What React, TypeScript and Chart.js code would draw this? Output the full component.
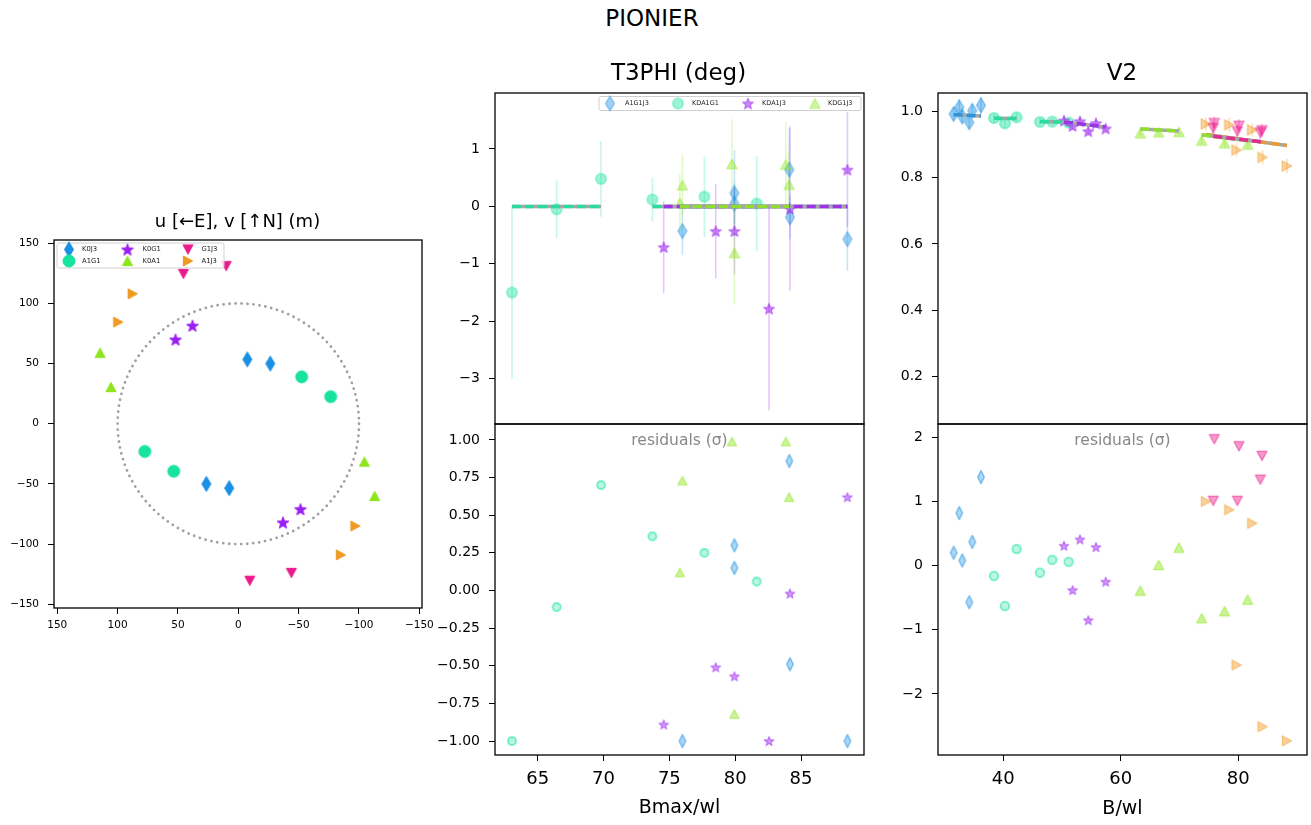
import React, { useEffect, useRef } from 'react';
import { Chart, registerables } from 'chart.js';

Chart.register(...registerables);

const FONT = "'DejaVu Sans', 'Liberation Sans', sans-serif";
Chart.defaults.font.family = FONT;

// ---------- colours ----------
const BLUE = '#1a8fe3';
const TEAL = '#17e39c';
const PURPLE = '#9a1ff2';
const LIME = '#8ce61a';
const PINK = '#eb1a8c';
const ORANGE = '#ef9a22';
const MODEL_GRAY = '#a6a6a6';

// ---------- u,v coverage (m) ----------
const UV_REF_RADIUS = 100;
const UV_K0J3_U = [-7.5, -26.5, 26.5, 7.5];
const UV_K0J3_V = [53.5, 50, -50, -53.5];
const UV_A1G1_U = [-52.5, -76.5, 77.5, 53.5];
const UV_A1G1_V = [39, 22.5, -23, -39.5];
const UV_K0G1_U = [52, 38, -37, -51.5];
const UV_K0G1_V = [70, 81.5, -82, -71];
const UV_K0A1_U = [114.5, 105.5, -104.5, -113];
const UV_K0A1_V = [59, 30.5, -31.5, -60];
const UV_G1J3_U = [10, 45.5, -9.5, -44];
const UV_G1J3_V = [131, 124.5, -130.5, -124];
const UV_A1J3_U = [87.5, 99.5, -97, -85];
const UV_A1J3_V = [108, 84.5, -85, -109];

// ---------- T3PHI ----------
const T3_A1G1J3_X = [75.99, 79.94, 79.94, 84.11, 84.16, 88.52];
const T3_A1G1J3_Y = [-0.43, 0.23, 0.05, 0.64, -0.19, -0.57];
const T3_A1G1J3_E = [0.42, 0.75, 0.35, 0.72, 0.38, 0.55];
const T3_A1G1J3_R = [-1.0, 0.3, 0.15, 0.86, -0.49, -1.0];

const T3_KDA1G1_X = [63.05, 66.44, 69.81, 73.71, 77.66, 81.63];
const T3_KDA1G1_Y = [-1.5, -0.05, 0.48, 0.12, 0.17, 0.05];
const T3_KDA1G1_E = [1.5, 0.5, 0.66, 0.38, 0.7, 0.83];
const T3_KDA1G1_R = [-1.0, -0.11, 0.7, 0.36, 0.25, 0.06];

const T3_KDA1J3_X = [74.57, 78.52, 79.94, 82.57, 84.16, 88.52];
const T3_KDA1J3_Y = [-0.71, -0.43, -0.43, -1.78, -0.04, 0.64];
const T3_KDA1J3_E = [0.8, 0.82, 0.75, 1.77, 1.43, 1.0];
const T3_KDA1J3_R = [-0.89, -0.51, -0.57, -1.0, -0.02, 0.62];

const T3_KDG1J3_X = [75.8, 75.99, 79.75, 79.94, 83.84, 84.09];
const T3_KDG1J3_Y = [0.06, 0.37, 0.74, -0.81, 0.73, 0.38];
const T3_KDG1J3_E = [0.5, 0.52, 0.78, 0.9, 0.74, 0.6];
const T3_KDG1J3_R = [0.12, 0.73, 0.99, -0.82, 0.99, 0.62];

// model segments (T3PHI)
const T3M_KDA1G1A_X = [63.05, 69.81];
const T3M_KDA1G1A_Y = [0, 0];
const T3M_KDA1G1B_X = [73.71, 81.63];
const T3M_KDA1G1B_Y = [0, 0];
const T3M_A1G1J3_X = [75.99, 88.52];
const T3M_A1G1J3_Y = [0, 0];
const T3M_KDA1J3_X = [74.57, 88.52];
const T3M_KDA1J3_Y = [0, 0];
const T3M_KDG1J3_X = [75.8, 84.09];
const T3M_KDG1J3_Y = [0, 0];

// ---------- V2 ----------
const V2_K0J3_X = [31.55, 32.51, 33.02, 34.21, 34.72, 36.2];
const V2_K0J3_Y = [0.992, 1.012, 0.984, 0.967, 1.002, 1.018];
const V2_K0J3_E = [0.02, 0.025, 0.02, 0.02, 0.02, 0.025];
const V2_K0J3_R = [0.2, 0.82, 0.08, -0.57, 0.37, 1.38];

const V2_A1G1_X = [38.41, 40.28, 42.27, 46.24, 48.34, 51.12];
const V2_A1G1_Y = [0.98, 0.964, 0.982, 0.968, 0.969, 0.966];
const V2_A1G1_E = [0.012, 0.012, 0.015, 0.01, 0.01, 0.01];
const V2_A1G1_R = [-0.16, -0.63, 0.26, -0.11, 0.09, 0.06];

const V2_K0G1_X = [50.33, 51.8, 53.05, 54.47, 55.77, 57.42];
const V2_K0G1_Y = [0.972, 0.956, 0.97, 0.94, 0.964, 0.948];
const V2_K0G1_E = [0.01, 0.01, 0.01, 0.012, 0.01, 0.01];
const V2_K0G1_R = [0.31, -0.38, 0.41, -0.85, 0.29, -0.25];

const V2_K0A1_X = [63.32, 66.44, 69.9, 73.76, 77.67, 81.59];
const V2_K0A1_Y = [0.934, 0.937, 0.938, 0.912, 0.904, 0.9];
const V2_K0A1_E = [0.01, 0.01, 0.012, 0.012, 0.012, 0.012];
const V2_K0A1_R = [-0.39, 0.01, 0.28, -0.82, -0.71, -0.53];

const V2_G1J3_X = [75.74, 75.91, 79.83, 80.11, 83.75, 84.03];
const V2_G1J3_Y = [0.949, 0.964, 0.939, 0.956, 0.936, 0.942];
const V2_G1J3_E = [0.02, 0.02, 0.02, 0.02, 0.02, 0.02];
const V2_G1J3_R = [1.01, 1.97, 1.01, 1.86, 1.34, 1.71];

const V2_A1J3_X = [74.5, 78.47, 79.72, 82.38, 84.14, 88.28];
const V2_A1J3_Y = [0.962, 0.959, 0.883, 0.944, 0.861, 0.835];
const V2_A1J3_E = [0.02, 0.022, 0.02, 0.02, 0.022, 0.022];
const V2_A1J3_R = [1.0, 0.87, -1.55, 0.66, -2.51, -2.73];

// model segments (V2)
const V2M_K0J3_X = [31.55, 36.2];
const V2M_K0J3_Y = [0.99, 0.986];
const V2M_A1G1A_X = [38.41, 42.27];
const V2M_A1G1A_Y = [0.979, 0.978];
const V2M_A1G1B_X = [46.24, 51.12];
const V2M_A1G1B_Y = [0.969, 0.967];
const V2M_K0G1_X = [50.33, 57.42];
const V2M_K0G1_Y = [0.968, 0.953];
const V2M_K0A1A_X = [63.32, 69.9];
const V2M_K0A1A_Y = [0.947, 0.941];
const V2M_K0A1B_X = [73.76, 81.59];
const V2M_K0A1B_Y = [0.929, 0.911];
const V2M_G1J3_X = [75.74, 84.03];
const V2M_G1J3_Y = [0.925, 0.908];
const V2M_A1J3_X = [74.5, 88.28];
const V2M_A1J3_Y = [0.93, 0.897];

// ---------- ticks ----------
const UV_TICKS = [-150, -100, -50, 0, 50, 100, 150];
const T3_X_TICKS = [65, 70, 75, 80, 85];
const T3_Y_TICKS = [-3, -2, -1, 0, 1];
const T3_RES_TICKS = [-1, -0.75, -0.5, -0.25, 0, 0.25, 0.5, 0.75, 1];
const V2_X_TICKS = [40, 60, 80];
const V2_Y_TICKS = [0.2, 0.4, 0.6, 0.8, 1.0];
const V2_RES_TICKS = [-2, -1, 0, 1, 2];

// ---------- helpers ----------
const minus = (s: string) => s.replace('-', '\u2212');

function hexA(hex: string, a: number) {
  const n = parseInt(hex.slice(1), 16);
  return `rgba(${(n >> 16) & 255},${(n >> 8) & 255},${n & 255},${a})`;
}

type Shape = 'o' | 'd' | '*' | '^' | 'v' | '>';
function marker(shape: Shape, color: string, r: number, fillA: number, edgeA: number, edgeW = 1.2, dw = 0.6): HTMLCanvasElement {
  const s = 2 * Math.ceil(r + edgeW + 2);
  const c = document.createElement('canvas');
  c.width = s;
  c.height = s;
  const ctx = c.getContext('2d')!;
  ctx.translate(s / 2, s / 2);
  ctx.beginPath();
  const k = 0.93;
  if (shape === 'o') ctx.arc(0, 0, r, 0, Math.PI * 2);
  else if (shape === 'd') {
    ctx.moveTo(0, -r); ctx.lineTo(dw * r, 0); ctx.lineTo(0, r); ctx.lineTo(-dw * r, 0); ctx.closePath();
  } else if (shape === '*') {
    for (let i = 0; i < 10; i++) {
      const a = -Math.PI / 2 + (i * Math.PI) / 5;
      const rr = i % 2 ? r * 0.42 : r;
      const px = rr * Math.cos(a), py = rr * Math.sin(a) + r * 0.1;
      if (i === 0) ctx.moveTo(px, py); else ctx.lineTo(px, py);
    }
    ctx.closePath();
  } else if (shape === '^') {
    ctx.moveTo(0, -k * r); ctx.lineTo(r, k * r); ctx.lineTo(-r, k * r); ctx.closePath();
  } else if (shape === 'v') {
    ctx.moveTo(0, k * r); ctx.lineTo(r, -k * r); ctx.lineTo(-r, -k * r); ctx.closePath();
  } else {
    ctx.moveTo(k * r, 0); ctx.lineTo(-k * r, -r); ctx.lineTo(-k * r, r); ctx.closePath();
  }
  ctx.lineJoin = 'round';
  if (fillA > 0) { ctx.globalAlpha = fillA; ctx.fillStyle = color; ctx.fill(); }
  if (edgeA > 0) { ctx.globalAlpha = edgeA; ctx.lineWidth = edgeW; ctx.strokeStyle = color; ctx.stroke(); }
  return c;
}

type Geo = { L: number; T: number; R: number; B: number; yw: number; xh: number; pt: number; pr: number; pb: number };
const boxOf = (g: Geo) => ({
  left: g.L - g.yw,
  top: g.T - g.pt,
  width: g.R - g.L + g.yw + g.pr,
  height: g.B - g.T + g.pt + g.xh + g.pb,
});

function axis(o: {
  min: number; max: number; ticks: number[]; fmt: (v: number) => string; size: number;
  fit: number; horizontal: boolean; show: boolean; reverse?: boolean; pad: number;
}) {
  return {
    type: 'linear',
    min: o.min,
    max: o.max,
    reverse: !!o.reverse,
    display: o.show,
    grid: { display: true, drawOnChartArea: false, drawTicks: true, tickLength: 6, color: '#000', lineWidth: 1 },
    border: { display: false },
    afterBuildTicks: (s: any) => { s.ticks = o.ticks.map((v) => ({ value: v })); },
    afterFit: (s: any) => { if (o.horizontal) s.height = o.fit; else s.width = o.fit; },
    ticks: {
      font: { family: FONT, size: o.size },
      color: '#000',
      padding: o.pad,
      maxRotation: 0,
      minRotation: 0,
      autoSkip: false,
      callback: (v: any) => o.fmt(Number(v)),
    },
  };
}

const xy = (xs: number[], ys: number[]) => xs.map((x, i) => ({ x, y: ys[i] }));

function pts(xs: number[], ys: number[], img: HTMLCanvasElement, order: number, extra: any = {}) {
  return {
    type: 'scatter', data: xy(xs, ys), pointStyle: img, pointRadius: 5, pointHoverRadius: 5,
    showLine: false, order, ...extra,
  };
}

function modelLine(xs: number[], ys: number[], color: string, order: number) {
  return [
    { type: 'scatter', data: xy(xs, ys), showLine: true, borderColor: MODEL_GRAY, borderWidth: 3.5, pointRadius: 0, order: order + 0.5, borderCapStyle: 'butt' },
    { type: 'scatter', data: xy(xs, ys), showLine: true, borderColor: hexA(color, 0.85), borderWidth: 3.5, borderDash: [9, 4], pointRadius: 0, order, borderCapStyle: 'butt' },
  ];
}

const framePlugin = {
  id: 'frame',
  afterDraw(chart: any) {
    const { ctx, chartArea: a } = chart;
    ctx.save();
    ctx.strokeStyle = '#000';
    ctx.lineWidth = 1.3;
    ctx.strokeRect(a.left, a.top, a.right - a.left, a.bottom - a.top);
    ctx.restore();
  },
};

const errPlugin = {
  id: 'errbars',
  beforeDatasetsDraw(chart: any) {
    const { ctx, chartArea: a, scales } = chart;
    const x = scales.x, y = scales.y;
    ctx.save();
    ctx.beginPath();
    ctx.rect(a.left, a.top, a.right - a.left, a.bottom - a.top);
    ctx.clip();
    chart.data.datasets.forEach((ds: any) => {
      if (!ds.errY) return;
      ctx.strokeStyle = ds.errColor;
      ctx.lineWidth = 1.6;
      ds.data.forEach((p: any, i: number) => {
        const px = x.getPixelForValue(p.x);
        ctx.beginPath();
        ctx.moveTo(px, y.getPixelForValue(p.y - ds.errY[i]));
        ctx.lineTo(px, y.getPixelForValue(p.y + ds.errY[i]));
        ctx.stroke();
      });
    });
    ctx.restore();
  },
};

const uvCirclePlugin = {
  id: 'uvCircle',
  beforeDatasetsDraw(chart: any) {
    const { ctx, scales } = chart;
    const x = scales.x, y = scales.y;
    const cx = x.getPixelForValue(0), cy = y.getPixelForValue(0);
    const rx = Math.abs(x.getPixelForValue(UV_REF_RADIUS) - cx);
    const ry = Math.abs(y.getPixelForValue(UV_REF_RADIUS) - cy);
    ctx.save();
    ctx.strokeStyle = '#a0a0a0';
    ctx.lineWidth = 2.8;
    ctx.lineCap = 'round';
    ctx.setLineDash([0.01, 6]);
    ctx.beginPath();
    ctx.ellipse(cx, cy, rx, ry, 0, 0, Math.PI * 2);
    ctx.stroke();
    ctx.restore();
  },
};

type LegItem = { img: HTMLCanvasElement; label: string; mx: number; my: number; tx: number };
function legendPlugin(id: string, box: { x: number; y: number; w: number; h: number }, items: LegItem[], fs: number) {
  return {
    id,
    afterDatasetsDraw(chart: any) {
      const { ctx, chartArea: a } = chart;
      const bx = a.left + box.x, by = a.top + box.y;
      ctx.save();
      ctx.fillStyle = 'rgba(255,255,255,0.8)';
      ctx.strokeStyle = '#d0d0d0';
      ctx.lineWidth = 1;
      ctx.beginPath();
      if (ctx.roundRect) ctx.roundRect(bx, by, box.w, box.h, 2); else ctx.rect(bx, by, box.w, box.h);
      ctx.fill();
      ctx.stroke();
      ctx.font = `${fs}px ${FONT}`;
      ctx.fillStyle = '#222';
      ctx.textBaseline = 'middle';
      items.forEach((it) => {
        ctx.drawImage(it.img, bx + it.mx - it.img.width / 2, by + it.my - it.img.height / 2);
        ctx.fillText(it.label, bx + it.tx, by + it.my);
      });
      ctx.restore();
    },
  };
}

function baseOptions(g: Geo, x: any, y: any) {
  return {
    responsive: false,
    animation: false,
    events: [],
    layout: { padding: { top: g.pt, right: g.pr, left: 0, bottom: g.pb } },
    plugins: { legend: { display: false }, tooltip: { enabled: false }, title: { display: false } },
    scales: { x, y },
  };
}

// ---------- geometry ----------
const UV_GEO: Geo = { L: 54, T: 240, R: 422, B: 608, yw: 50, xh: 30, pt: 20, pr: 20, pb: 0 };
const T3_GEO: Geo = { L: 495, T: 93, R: 864, B: 424, yw: 62, xh: 0, pt: 20, pr: 10, pb: 20 };
const T3R_GEO: Geo = { L: 495, T: 424, R: 864, B: 755, yw: 62, xh: 40, pt: 20, pr: 10, pb: 0 };
const V2_GEO: Geo = { L: 938, T: 93, R: 1307, B: 424, yw: 62, xh: 0, pt: 20, pr: 10, pb: 20 };
const V2R_GEO: Geo = { L: 938, T: 424, R: 1307, B: 755, yw: 62, xh: 40, pt: 20, pr: 10, pb: 0 };

// ---------- chart builders ----------
function makeUV() {
  const g = UV_GEO;
  const mK0J3 = marker('d', BLUE, 7.5, 1, 1, 1);
  const mA1G1 = marker('o', TEAL, 6, 1, 1, 1);
  const mK0G1 = marker('*', PURPLE, 6.2, 1, 1, 1);
  const mK0A1 = marker('^', LIME, 5, 1, 1, 1);
  const mG1J3 = marker('v', PINK, 5, 1, 1, 1);
  const mA1J3 = marker('>', ORANGE, 5, 1, 1, 1);
  const fmt = (v: number) => minus(String(v));
  return {
    type: 'scatter',
    data: {
      datasets: [
        pts(UV_K0J3_U, UV_K0J3_V, mK0J3, 6),
        pts(UV_A1G1_U, UV_A1G1_V, mA1G1, 5),
        pts(UV_K0G1_U, UV_K0G1_V, mK0G1, 4),
        pts(UV_K0A1_U, UV_K0A1_V, mK0A1, 3),
        pts(UV_G1J3_U, UV_G1J3_V, mG1J3, 2),
        pts(UV_A1J3_U, UV_A1J3_V, mA1J3, 1),
      ],
    },
    options: baseOptions(
      g,
      axis({ min: -152.2, max: 152.7, reverse: true, ticks: UV_TICKS, fmt, size: 10.5, fit: g.xh, horizontal: true, show: true, pad: 5 }),
      axis({ min: -153.1, max: 152.7, ticks: UV_TICKS, fmt, size: 10.5, fit: g.yw, horizontal: false, show: true, pad: 9 }),
    ),
    plugins: [
      uvCirclePlugin,
      legendPlugin('uvLegend', { x: 3, y: 3, w: 167, h: 25 }, [
        { img: mK0J3, label: 'K0J3', mx: 12, my: 6.5, tx: 25 },
        { img: mA1G1, label: 'A1G1', mx: 12, my: 18, tx: 25 },
        { img: mK0G1, label: 'K0G1', mx: 70.5, my: 6.5, tx: 85.5 },
        { img: mK0A1, label: 'K0A1', mx: 70.5, my: 18, tx: 85.5 },
        { img: mG1J3, label: 'G1J3', mx: 131, my: 6.5, tx: 144.5 },
        { img: mA1J3, label: 'A1J3', mx: 131, my: 18, tx: 144.5 },
      ], 6.8),
      framePlugin,
    ],
  };
}

function makeT3() {
  const g = T3_GEO;
  const A = 0.42;
  const mB = marker('d', BLUE, 7.5, A, A, 1.4);
  const mT = marker('o', TEAL, 5.3, A, A, 1.4);
  const mP = marker('*', PURPLE, 5.8, A + 0.1, A + 0.1, 1.2);
  const mL = marker('^', LIME, 5.2, A, A, 1.2);
  const ec = (c: string) => hexA(c, 0.25);
  const lines = [
    [T3M_KDA1G1A_X, T3M_KDA1G1A_Y, TEAL],
    [T3M_KDA1G1B_X, T3M_KDA1G1B_Y, TEAL],
    [T3M_A1G1J3_X, T3M_A1G1J3_Y, BLUE],
    [T3M_KDA1J3_X, T3M_KDA1J3_Y, PURPLE],
    [T3M_KDG1J3_X, T3M_KDG1J3_Y, LIME],
  ] as [number[], number[], string][];
  const lineSets = lines.flatMap(([xs, ys, c], i) => modelLine(xs, ys, c, 100 - 2 * i));
  return {
    type: 'scatter',
    data: {
      datasets: [
        pts(T3_KDA1G1_X, T3_KDA1G1_Y, mT, 303, { errY: T3_KDA1G1_E, errColor: ec(TEAL) }),
        pts(T3_A1G1J3_X, T3_A1G1J3_Y, mB, 302, { errY: T3_A1G1J3_E, errColor: ec(BLUE) }),
        pts(T3_KDA1J3_X, T3_KDA1J3_Y, mP, 301, { errY: T3_KDA1J3_E, errColor: ec(PURPLE) }),
        pts(T3_KDG1J3_X, T3_KDG1J3_Y, mL, 300, { errY: T3_KDG1J3_E, errColor: ec(LIME) }),
        ...lineSets,
      ],
    },
    options: baseOptions(
      g,
      axis({ min: 61.76, max: 89.78, ticks: T3_X_TICKS, fmt: (v) => String(v), size: 18, fit: 0, horizontal: true, show: false, pad: 8 }),
      axis({ min: -3.789, max: 1.975, ticks: T3_Y_TICKS, fmt: (v) => minus(String(v)), size: 14, fit: g.yw, horizontal: false, show: true, pad: 9 }),
    ),
    plugins: [
      errPlugin,
      legendPlugin('t3Legend', { x: 104, y: 3.5, w: 262, h: 14 }, [
        { img: mB, label: 'A1G1J3', mx: 11, my: 7, tx: 26 },
        { img: mT, label: 'KDA1G1', mx: 79, my: 7, tx: 93 },
        { img: mP, label: 'KDA1J3', mx: 149, my: 7, tx: 163 },
        { img: mL, label: 'KDG1J3', mx: 216, my: 7, tx: 229 },
      ], 6.5),
      framePlugin,
    ],
  };
}

function makeT3R() {
  const g = T3R_GEO;
  const mB = marker('d', BLUE, 6.5, 0.35, 0.55, 1.5, 0.5);
  const mT = marker('o', TEAL, 4, 0.3, 0.55, 1.8);
  const mP = marker('*', PURPLE, 5, 0.45, 0.5, 1.2);
  const mL = marker('^', LIME, 4.6, 0.45, 0.5, 1.2);
  return {
    type: 'scatter',
    data: {
      datasets: [
        pts(T3_KDA1G1_X, T3_KDA1G1_R, mT, 4),
        pts(T3_A1G1J3_X, T3_A1G1J3_R, mB, 3),
        pts(T3_KDA1J3_X, T3_KDA1J3_R, mP, 2),
        pts(T3_KDG1J3_X, T3_KDG1J3_R, mL, 1),
      ],
    },
    options: baseOptions(
      g,
      axis({ min: 61.76, max: 89.78, ticks: T3_X_TICKS, fmt: (v) => String(v), size: 18, fit: g.xh, horizontal: true, show: true, pad: 8 }),
      axis({ min: -1.093, max: 1.106, ticks: T3_RES_TICKS, fmt: (v) => minus(v.toFixed(2)), size: 14, fit: g.yw, horizontal: false, show: true, pad: 9 }),
    ),
    plugins: [framePlugin],
  };
}

function makeV2() {
  const g = V2_GEO;
  const A = 0.45;
  const mB = marker('d', BLUE, 7.5, A, A, 1.4);
  const mT = marker('o', TEAL, 5.3, A, A, 1.4);
  const mP = marker('*', PURPLE, 5.8, A + 0.1, A + 0.1, 1.2);
  const mL = marker('^', LIME, 5.2, A, A, 1.2);
  const mK = marker('v', PINK, 5.2, A, A, 1.2);
  const mO = marker('>', ORANGE, 5.2, A, A, 1.2);
  const ec = (c: string) => hexA(c, 0.3);
  const lines = [
    [V2M_K0J3_X, V2M_K0J3_Y, BLUE],
    [V2M_A1G1A_X, V2M_A1G1A_Y, TEAL],
    [V2M_A1G1B_X, V2M_A1G1B_Y, TEAL],
    [V2M_K0G1_X, V2M_K0G1_Y, PURPLE],
    [V2M_K0A1A_X, V2M_K0A1A_Y, LIME],
    [V2M_A1J3_X, V2M_A1J3_Y, ORANGE],
    [V2M_K0A1B_X, V2M_K0A1B_Y, LIME],
    [V2M_G1J3_X, V2M_G1J3_Y, PINK],
  ] as [number[], number[], string][];
  const lineSets = lines.flatMap(([xs, ys, c], i) => modelLine(xs, ys, c, 100 - 2 * i));
  return {
    type: 'scatter',
    data: {
      datasets: [
        pts(V2_K0J3_X, V2_K0J3_Y, mB, 305, { errY: V2_K0J3_E, errColor: ec(BLUE) }),
        pts(V2_A1G1_X, V2_A1G1_Y, mT, 304, { errY: V2_A1G1_E, errColor: ec(TEAL) }),
        pts(V2_K0G1_X, V2_K0G1_Y, mP, 303, { errY: V2_K0G1_E, errColor: ec(PURPLE) }),
        pts(V2_K0A1_X, V2_K0A1_Y, mL, 302, { errY: V2_K0A1_E, errColor: ec(LIME) }),
        pts(V2_A1J3_X, V2_A1J3_Y, mO, 301, { errY: V2_A1J3_E, errColor: ec(ORANGE) }),
        pts(V2_G1J3_X, V2_G1J3_Y, mK, 300, { errY: V2_G1J3_E, errColor: ec(PINK) }),
        ...lineSets,
      ],
    },
    options: baseOptions(
      g,
      axis({ min: 28.89, max: 91.69, ticks: V2_X_TICKS, fmt: (v) => String(v), size: 18, fit: 0, horizontal: true, show: false, pad: 8 }),
      axis({ min: 0.0573, max: 1.0552, ticks: V2_Y_TICKS, fmt: (v) => v.toFixed(1), size: 14, fit: g.yw, horizontal: false, show: true, pad: 9 }),
    ),
    plugins: [errPlugin, framePlugin],
  };
}

function makeV2R() {
  const g = V2R_GEO;
  const mB = marker('d', BLUE, 6.5, 0.35, 0.55, 1.5, 0.5);
  const mT = marker('o', TEAL, 4.3, 0.3, 0.55, 1.8);
  const mP = marker('*', PURPLE, 5, 0.45, 0.5, 1.2);
  const mL = marker('^', LIME, 5, 0.45, 0.5, 1.2);
  const mK = marker('v', PINK, 5, 0.45, 0.5, 1.2);
  const mO = marker('>', ORANGE, 5, 0.45, 0.5, 1.2);
  return {
    type: 'scatter',
    data: {
      datasets: [
        pts(V2_K0J3_X, V2_K0J3_R, mB, 6),
        pts(V2_A1G1_X, V2_A1G1_R, mT, 5),
        pts(V2_K0G1_X, V2_K0G1_R, mP, 4),
        pts(V2_K0A1_X, V2_K0A1_R, mL, 3),
        pts(V2_A1J3_X, V2_A1J3_R, mO, 2),
        pts(V2_G1J3_X, V2_G1J3_R, mK, 1),
      ],
    },
    options: baseOptions(
      g,
      axis({ min: 28.89, max: 91.69, ticks: V2_X_TICKS, fmt: (v) => String(v), size: 18, fit: g.xh, horizontal: true, show: true, pad: 8 }),
      axis({ min: -2.951, max: 2.207, ticks: V2_RES_TICKS, fmt: (v) => minus(String(v)), size: 14, fit: g.yw, horizontal: false, show: true, pad: 9 }),
    ),
    plugins: [framePlugin],
  };
}

// ---------- components ----------
function Panel({ geo, make }: { geo: Geo; make: () => any }) {
  const ref = useRef<HTMLCanvasElement>(null);
  useEffect(() => {
    const chart = new Chart(ref.current as HTMLCanvasElement, make());
    return () => chart.destroy();
  }, []);
  const b = boxOf(geo);
  return (
    <canvas
      ref={ref}
      width={b.width}
      height={b.height}
      style={{ position: 'absolute', left: b.left, top: b.top, width: b.width, height: b.height }}
    />
  );
}

function Txt({ x, y, size, color = '#000', children }: { x: number; y: number; size: number; color?: string; children: any }) {
  return (
    <div
      style={{
        position: 'absolute', left: x, top: y, transform: 'translate(-50%, -50%)',
        fontFamily: FONT, fontSize: size, lineHeight: 1, color, whiteSpace: 'nowrap',
      }}
    >
      {children}
    </div>
  );
}

export default function App() {
  return (
    <div style={{ position: 'absolute', left: 0, top: 0, width: 1311, height: 825, overflow: 'hidden', background: '#fff' }}>
      <Panel geo={UV_GEO} make={makeUV} />
      <Panel geo={T3_GEO} make={makeT3} />
      <Panel geo={T3R_GEO} make={makeT3R} />
      <Panel geo={V2_GEO} make={makeV2} />
      <Panel geo={V2R_GEO} make={makeV2R} />
      <Txt x={652} y={18.3} size={23}>PIONIER</Txt>
      <Txt x={678.5} y={71.7} size={23}>T3PHI (deg)</Txt>
      <Txt x={1122} y={71.5} size={23}>V2</Txt>
      <Txt x={237.5} y={220.5} size={18}>u [←E], v [↑N] (m)</Txt>
      <Txt x={679.5} y={806} size={19}>Bmax/wl</Txt>
      <Txt x={1122.5} y={806.5} size={19}>B/wl</Txt>
      <Txt x={679.5} y={440.5} size={15.5} color="#888">residuals (σ)</Txt>
      <Txt x={1122.5} y={440.5} size={15.5} color="#888">residuals (σ)</Txt>
    </div>
  );
}
